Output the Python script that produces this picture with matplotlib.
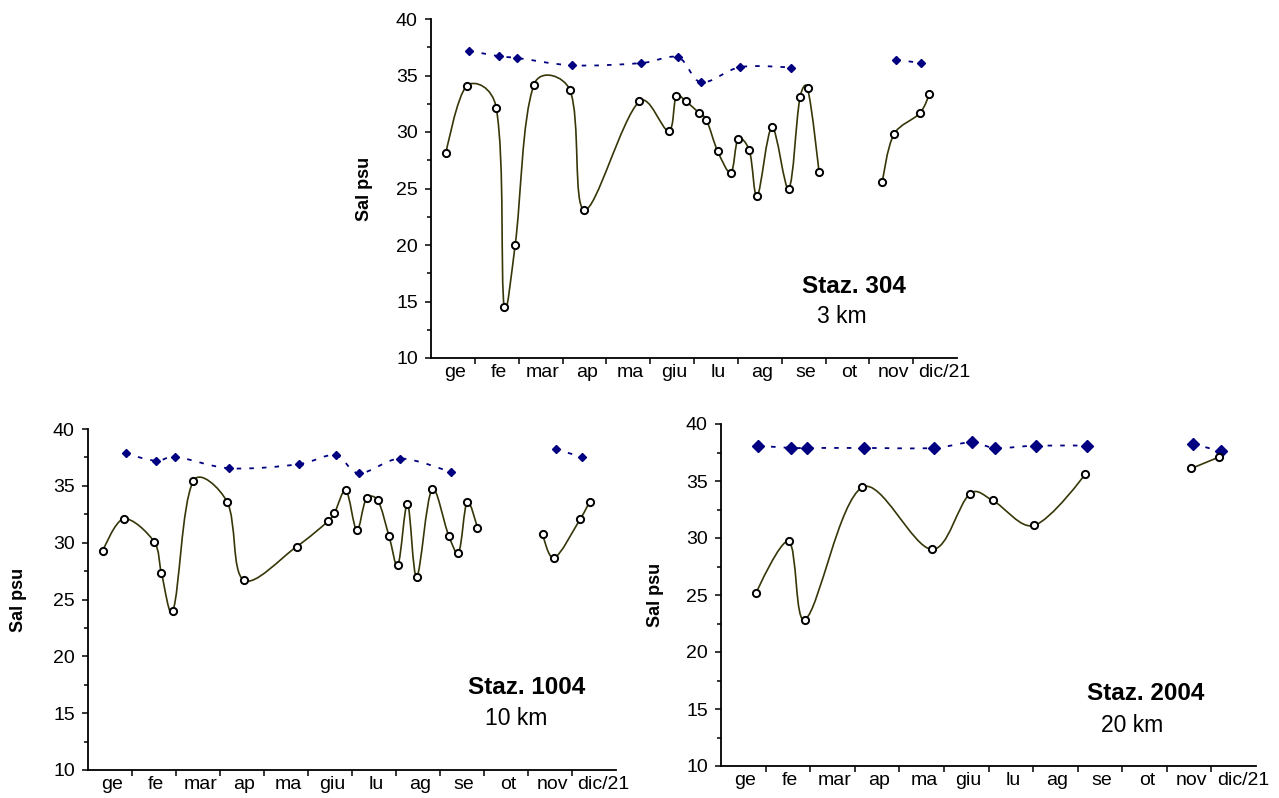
import numpy as np
import matplotlib
matplotlib.use("Agg")
import matplotlib.pyplot as plt
from matplotlib.path import Path
from matplotlib.patches import PathPatch

plt.rcParams['font.family'] = ['Liberation Sans', 'DejaVu Sans']

# month labels (x axis in months from start of year)
months = ["ge", "fe", "mar", "ap", "ma", "giu", "lu", "ag", "se", "ot", "nov", "dic/21"]

# Staz. 304 (3 km) - surface (open circles) and bottom (diamonds); None = gap
x304_s = [0.34, 0.82, 1.49, 1.67, 1.92, 2.35, 3.17, 3.50, 4.75, 5.42, 5.60, 5.82, 6.11, 6.28,
          6.54, 6.84, 7.01, 7.26, 7.44, 7.78, 8.16, 8.42, 8.59, 8.85, None,
          10.30, 10.56, 11.16, 11.37]
y304_s = [28.1, 34.1, 32.1, 14.5, 20.0, 34.2, 33.7, 23.1, 32.7, 30.1, 33.2, 32.7, 31.7, 31.1,
          28.3, 26.4, 29.4, 28.4, 24.3, 30.4, 25.0, 33.1, 33.9, 26.5, None,
          25.6, 29.8, 31.7, 33.4]
x304_b = [0.87, 1.55, 1.97, 3.22, 4.80, 5.64, 6.16, 7.06, 8.21, None, 10.61, 11.19]
y304_b = [37.2, 36.7, 36.55, 35.9, 36.1, 36.6, 34.4, 35.75, 35.7, None, 36.4, 36.1]

# Staz. 1004 (10 km)
x1004_s = [0.34, 0.81, 1.50, 1.67, 1.93, 2.39, 3.16, 3.54, 4.74, 5.46, 5.60, 5.86, 6.11, 6.33,
           6.58, 6.84, 7.04, 7.26, 7.47, 7.82, 8.20, 8.42, 8.62, 8.85, None,
           10.33, 10.59, 11.19, 11.40]
y1004_s = [29.3, 32.1, 30.1, 27.3, 24.0, 35.4, 33.6, 26.7, 29.65, 31.9, 32.6, 34.6, 31.1, 33.9,
           33.75, 30.6, 28.0, 33.4, 27.0, 34.7, 30.6, 29.1, 33.6, 31.3, None,
           30.8, 28.65, 32.1, 33.6]
x1004_b = [0.86, 1.55, 1.98, 3.21, 4.79, 5.63, 6.15, 7.10, 8.24, None, 10.63, 11.23]
y1004_b = [37.85, 37.2, 37.55, 36.55, 36.9, 37.7, 36.1, 37.4, 36.2, None, 38.2, 37.55]

# Staz. 2004 (20 km)
x2004_s = [0.79, 1.52, 1.89, 3.17, 4.73, 5.59, 6.09, 7.02, 8.17, None, 10.55, 11.17]
y2004_s = [25.2, 29.7, 22.85, 34.45, 29.0, 33.9, 33.3, 31.1, 35.6, None, 36.1, 37.1]
x2004_b = [0.84, 1.56, 1.93, 3.21, 4.78, 5.63, 6.14, 7.07, 8.22, None, 10.59, 11.22]
y2004_b = [38.1, 37.9, 37.9, 37.9, 37.9, 38.4, 37.9, 38.1, 38.1, None, 38.25, 37.6]

W, H = 1279, 798
olive = '#363608'
navy = '#000080'


def runs(xs, ys):
    """Split a series on None gaps."""
    out, cx, cy = [], [], []
    for a, b in zip(xs, ys):
        if a is None:
            if cx:
                out.append((np.array(cx), np.array(cy)))
            cx, cy = [], []
        else:
            cx.append(a)
            cy.append(b)
    if cx:
        out.append((np.array(cx), np.array(cy)))
    return out


def smooth_path(x, y, sx, sy):
    """Bezier path through the points (smoothed line like the spreadsheet one)."""
    p = np.column_stack([x, y])
    n = len(p)
    d = np.sqrt(np.hypot(np.diff(x) * sx, np.diff(y) * sy))

    def tangent(i):
        if i == 0 or i == n - 1:
            return np.zeros(2), 1.0, 1.0
        return p[i + 1] - p[i - 1], d[i - 1], d[i]

    verts = [p[0]]
    codes = [Path.MOVETO]
    for i in range(n - 1):
        t0, a0, b0 = tangent(i)
        t1, a1, b1 = tangent(i + 1)
        c1 = p[i] + t0 * (b0 / (a0 + b0)) / 3.0
        c2 = p[i + 1] - t1 * (a1 / (a1 + b1)) / 3.0
        verts += [c1, c2, p[i + 1]]
        codes += [Path.CURVE4] * 3
    return Path(verts, codes)


def panel(rect, xs, ys, xb, yb, title, dist, bms, ylab_x, t_pos, d_pos):
    l, t, r, b = rect
    ax = fig.add_axes([l / W, 1 - b / H, (r - l) / W, (b - t) / H])
    sx, sy = (r - l) / 12.0, (b - t) / 30.0
    for x, y in runs(xb, yb):
        ax.add_patch(PathPatch(smooth_path(x, y, sx, sy), fill=False, edgecolor=navy,
                               lw=1.3, linestyle=(0, (2.5, 4.5))))
        ax.plot(x, y, 'D', color=navy, ms=bms, mec=navy, zorder=3)
    for x, y in runs(xs, ys):
        ax.add_patch(PathPatch(smooth_path(x, y, sx, sy), fill=False, edgecolor=olive, lw=1.2))
        ax.plot(x, y, 'o', ms=5.2, mfc='white', mec='black', mew=1.4, zorder=3)

    ax.set_xlim(0, 12)
    ax.set_ylim(10, 40)
    ax.set_xticks(range(1, 12))
    ax.set_xticklabels([])
    lab_pos = [i + 0.55 for i in range(11)] + [11.72]
    ax.set_xticks(lab_pos, minor=True)
    ax.set_xticklabels(months, minor=True)
    ax.tick_params(axis='x', which='minor', length=0, pad=4, labelsize=14)
    ax.tick_params(axis='x', which='major', length=4.5, width=1.1, direction='out')
    ax.set_yticks(range(10, 41, 5))
    ax.set_yticks(np.arange(12.5, 40, 5), minor=True)
    ax.tick_params(axis='y', which='major', length=4.5, width=1.1, labelsize=14, pad=5)
    ax.tick_params(axis='y', which='minor', length=3, width=1.1)
    for s in ['top', 'right']:
        ax.spines[s].set_visible(False)
    for s in ['left', 'bottom']:
        ax.spines[s].set_linewidth(1.3)
    ax.set_ylabel('Sal psu', fontsize=13, fontweight='bold')
    ax.yaxis.set_label_coords(ylab_x, 0.5)
    ax.text(t_pos[0], t_pos[1], title, transform=ax.transAxes, fontsize=17.5,
            fontweight='bold', ha='center', va='center')
    ax.text(d_pos[0], d_pos[1], dist, transform=ax.transAxes, fontsize=16.5,
            ha='center', va='center')
    return ax


fig = plt.figure(figsize=(W / 100, H / 100), dpi=100)

panel((431, 19, 957, 358), x304_s, y304_s, x304_b, y304_b, 'Staz. 304', '3 km', 3.8,
      -0.110, (0.804, 0.212), (0.781, 0.121))
panel((88, 429, 616, 770), x1004_s, y1004_s, x1004_b, y1004_b, 'Staz. 1004', '10 km', 3.8,
      -0.116, (0.831, 0.243), (0.811, 0.150))
panel((721, 424, 1256, 766), x2004_s, y2004_s, x2004_b, y2004_b, 'Staz. 2004', '20 km', 6,
      -0.107, (0.793, 0.213), (0.768, 0.117))

fig.savefig('out.png', dpi=100)
